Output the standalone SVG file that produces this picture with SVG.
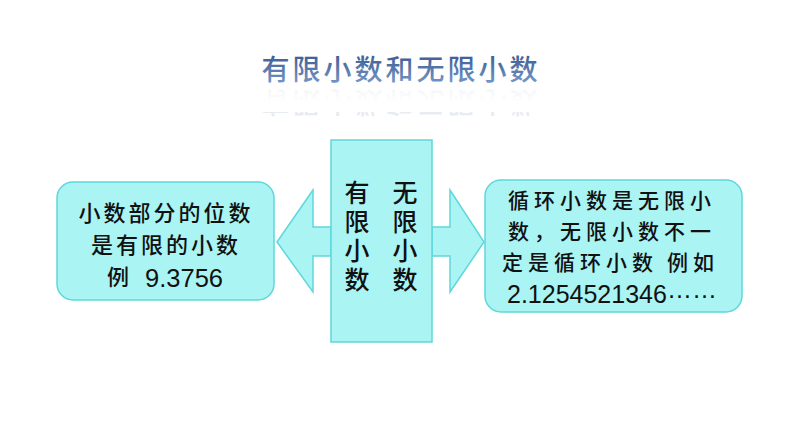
<svg xmlns="http://www.w3.org/2000/svg" xmlns:xlink="http://www.w3.org/1999/xlink" width="794" height="447" viewBox="0 0 794 447">
<defs>
<linearGradient id="tg" x1="0" y1="0" x2="0" y2="1">
<stop offset="0" stop-color="#2f4f86"/>
<stop offset="1" stop-color="#7d9fd0"/>
</linearGradient>
<linearGradient id="rg" x1="0" y1="0" x2="0" y2="1">
<stop offset="0" stop-color="#ffffff" stop-opacity="0.2"/>
<stop offset="1" stop-color="#ffffff" stop-opacity="1"/>
</linearGradient>
<style>
.box{fill:#aaf4f4;stroke:#5fd7db;stroke-width:1.5}
.t{font-family:"Noto Sans CJK SC","Noto Sans",sans-serif;font-weight:500;fill:#111}
.m{text-anchor:middle}
.s{text-anchor:start}
.l{font-size:22px;letter-spacing:3px}
.c{font-size:25px;letter-spacing:4px;writing-mode:vertical-rl;text-anchor:start}
.r{font-size:21px;letter-spacing:5px}
.n{font-family:"Liberation Sans",Arial,sans-serif;font-weight:normal;letter-spacing:0}
.title{font-family:"Noto Sans CJK SC",sans-serif;font-size:28px;font-weight:500;letter-spacing:3px;text-anchor:middle}
</style>
</defs>
<rect width="794" height="447" fill="#fff"/>
<g id="title">
<text id="tt" class="title" x="401" y="80" fill="url(#tg)">有限小数和无限小数</text>
<use xlink:href="#tt" href="#tt" transform="translate(0,172) scale(1,-1)" opacity="0.12"/>
<rect x="250" y="86" width="300" height="16" fill="url(#rg)"/>
<rect x="250" y="102" width="300" height="10" fill="#fff"/>
</g>
<g id="connectors">
<polygon class="box" points="331,227 313,227 313,190 277,242 313,292 313,256 331,256"/>
<polygon class="box" points="432,227 450,227 450,190 484,242 450,292 450,256 432,256"/>
</g>
<g id="left">
<rect class="box" x="57" y="182" width="217" height="118" rx="16"/>
<text class="t m l" x="166" y="221">小数部分的位数<tspan x="166" y="253">是有限的小数</tspan><tspan x="118" y="285" style="letter-spacing:0">例</tspan><tspan class="n" x="184" y="287" style="font-size:25.5px">9.3756</tspan></text>
</g>
<g id="center">
<rect class="box" x="331" y="140" width="101" height="202"/>
<text class="t c" x="357" y="180">有限小数</text>
<text class="t c" x="405" y="180">无限小数</text>
</g>
<g id="right">
<rect class="box" x="485" y="180" width="257" height="132" rx="16"/>
<text class="t s r" x="508" y="208">循环小数是无限小<tspan x="508" y="239">数，无限小数不一</tspan><tspan x="502" y="270">定是循环小数</tspan><tspan x="667" y="270">例如</tspan><tspan class="n" x="507" y="303" style="font-size:25px">2.1254521346<tspan dy="-5">……</tspan></tspan></text>
</g>
</svg>
